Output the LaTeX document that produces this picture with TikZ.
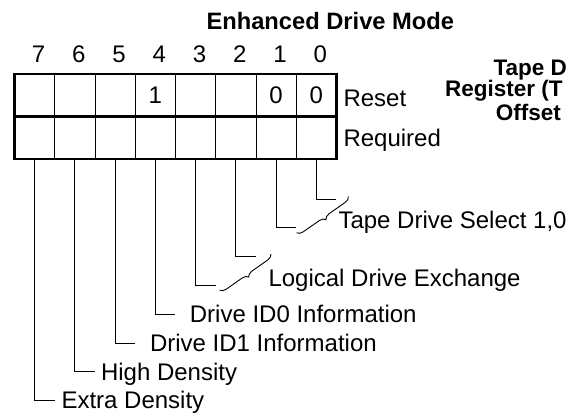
\documentclass[tikz,border=0pt]{standalone}
\usepackage{fontspec}
\setmainfont{Liberation Sans}
\usetikzlibrary{decorations.pathreplacing}
\newcommand{\lblfont}{\fontsize{24}{28}\selectfont}
\newcommand{\hdrfont}{\fontsize{23.7}{28}\selectfont\bfseries}
\newcommand{\sidefont}{\fontsize{22.5}{27}\selectfont\bfseries}
\tikzset{
  cell/.style={draw, line width=0.9pt, minimum width=40.25pt, minimum height=42.5pt, inner sep=0pt, outer sep=0pt, font=\lblfont},
  bitnum/.style={font=\lblfont, inner sep=0pt, anchor=base},
  lbl/.style={font=\lblfont, inner sep=0pt, anchor=base west},
  hdr/.style={font=\hdrfont, inner sep=0pt},
  side/.style={font=\sidefont, inner sep=0pt, anchor=base west},
  frame/.style={line width=2.6pt},
  lead/.style={line width=0.9pt},
  brc/.style={decorate, decoration={brace, amplitude=6pt}, line width=0.9pt},
}
\begin{document}
\begin{tikzpicture}[x=1pt,y=-1pt]
\useasboundingbox (0,0) rectangle (569,412);
% ---------------- title and side heading
\node[hdr, anchor=base] (title) at (330.3,29.3) {Enhanced Drive Mode};
\node[side] (side1) at (493.3,75) {Tape D};
\node[side] (side2) at (445,96.7) {Register (T};
\node[side] (side3) at (495.7,120) {Offset};
% ---------------- register cells
\foreach \b/\v in {7/{},6/{},5/{},4/1,3/{},2/{},1/0,0/0} {
  \pgfmathsetmacro\cx{34.625+40.25*(7-\b)}
  \node[bitnum] (n\b) at (\cx+4,62.7) {\b};
  \node[cell] (s\b) at (\cx,95.25) {\v};
  \node[cell] (q\b) at (\cx,137.75) {};
}
\draw[frame] (s7.north west) rectangle (q0.south east);
\draw[frame] (s7.south west) -- (s0.south east);
\node[lbl] (reset) at (343.3,106.3) {Reset};
\node[lbl] (req) at (343.3,146.3) {Required};
% ---------------- leaders
\foreach \b in {0,...,7} {
  \pgfmathsetmacro\cx{34.625+40.25*(7-\b)}
  \coordinate (e\b) at (\cx+20,199+28.8*\b);
  \draw[lead] (q\b.south) |- (e\b);
}
\coordinate (ua) at ([shift={(12,-2.5)}]e0);
\coordinate (la) at ([shift={(0.5,5)}]e1);
\coordinate (ub) at ([shift={(15,-2.5)}]e2);
\coordinate (lb) at ([shift={(4,4.8)}]e3);
\draw[brc] (ua) -- (la);
\draw[brc] (ub) -- (lb);
\node[lbl] (t01) at (338.3,228.3) {Tape Drive Select 1,0};
\node[lbl] (t23) at (268.3,286.7) {Logical Drive Exchange};
\foreach \b/\dx/\t in {4/14.3/Drive ID0 Information, 5/14.7/Drive ID1 Information, 6/6/High Density, 7/6.7/Extra Density} {
  \node[lbl] (t\b) at ([shift={(\dx,8.3)}]e\b) {\t};
}
\end{tikzpicture}
\end{document}
